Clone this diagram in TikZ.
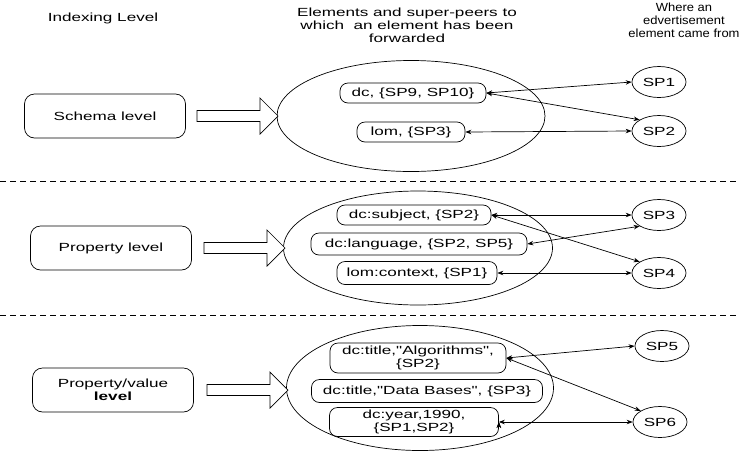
\documentclass[tikz,border=0pt]{standalone}
\usepackage{fontspec}
\setmainfont{Liberation Sans}[FakeStretch=1.45, Ligatures=TeXOff]
\newfontfamily\headfont{Liberation Sans}[FakeStretch=1.1, Ligatures=TeXOff]
\usepackage{tikz}
\usetikzlibrary{shapes.geometric,arrows.meta}

\begin{document}
\begin{tikzpicture}[x=1pt, y=-1pt, line width=0.7pt, <->, >={Stealth[length=6pt,width=4.5pt]},
        every node/.style={font=\fontsize{11.8}{13}\selectfont, inner sep=0pt},
        level/.style={draw, rounded corners=10pt, minimum width=161pt, minimum height=44pt, align=center},
        elem/.style={draw, rounded corners=8pt, align=center},
        peer/.style={draw, ellipse, minimum width=54pt, minimum height=31pt},
        pool/.style={draw, ellipse},
        sep/.style={-, dash pattern=on 6pt off 4pt},
        bigarrow/.style={-, draw, fill=white}]
        \useasboundingbox (0,0) rectangle (740,451);
        % column headings
        \node (hdrlevel) at (103,18) {Indexing Level};
        \node[align=center] (hdrelem) at (407,25) {Elements and super-peers to\\which~~an element has been\\forwarded};
        \node[align=center, font=\headfont\fontsize{11.8}{13}\selectfont] (hdrpeer) at (684,20) {Where an\\edvertisement\\element came from};
        % schema level
        \node[level] (schema) at (105,116) {Schema level};
        \node[pool, minimum width=268pt, minimum height=111pt] (poolA) at (411,116) {};
        \node[elem, minimum width=146pt, minimum height=20pt] (dc) at (413,93) {dc, \{SP9, SP10\}};
        \node[elem, minimum width=108pt, minimum height=20pt] (lom) at (411,132) {lom, \{SP3\}};
        \node[peer] (sp1) at (659,82) {SP1};
        \node[peer] (sp2) at (659,131) {SP2};
        % property level
        \node[level] (prop) at (111,248) {Property level};
        \node[pool, minimum width=269pt, minimum height=114pt] (poolB) at (418,248) {};
        \node[elem, minimum width=154pt, minimum height=20pt] (subj) at (414,215) {dc:subject, \{SP2\}};
        \node[elem, minimum width=216pt, minimum height=22pt] (lang) at (419,244) {dc:language, \{SP2, SP5\}};
        \node[elem, minimum width=160pt, minimum height=23pt] (ctx) at (417,273) {lom:context, \{SP1\}};
        \node[peer] (sp3) at (659,215) {SP3};
        \node[peer] (sp4) at (659,273) {SP4};
        % property/value level
        \node[level] (propval) at (113,390) {Property/value\\\textbf{level}};
        \node[pool, minimum width=267pt, minimum height=125pt] (poolC) at (420,388) {};
        \node[elem, minimum width=176pt, minimum height=30pt] (alg) at (418,358) {dc:title,"Algorithms",\\\{SP2\}};
        \node[elem, minimum width=231pt, minimum height=23pt] (dbs) at (427,391) {dc:title,"Data Bases", \{SP3\}};
        \node[elem, minimum width=169pt, minimum height=29pt] (year) at (414,422) {dc:year,1990,\\\{SP1,SP2\}};
        \node[peer] (sp5) at (662,346) {SP5};
        \node[peer] (sp6) at (660,422) {SP6};
        % separators and block arrows
        \draw[sep] (0,181) -- (740,181);
        \draw[sep] (0,315) -- (740,315);
        \foreach \x/\y in {197/116, 204/248, 207/390}
            \draw[bigarrow] (\x,\y-5.5) -- ++(63,0) -- ++(0,-12.5) -- ++(18,18) -- ++(-18,18) -- ++(0,-12.5) -- ++(-63,0) -- cycle;
        \draw (dc.east) edge (sp1.west)
              (dc.east) edge (sp2.north west)
              (lom.east) edge (sp2.west)
              (subj.east) edge (sp3.west)
              (subj.east) edge (sp4.north west)
              (lang.east) edge (sp3.south west)
              (ctx.east) edge (sp4.west)
              (alg.east) edge (sp5.west)
              (alg.east) edge (sp6.north west)
              (year.east) edge (sp6.west);
\end{tikzpicture}
\end{document}
